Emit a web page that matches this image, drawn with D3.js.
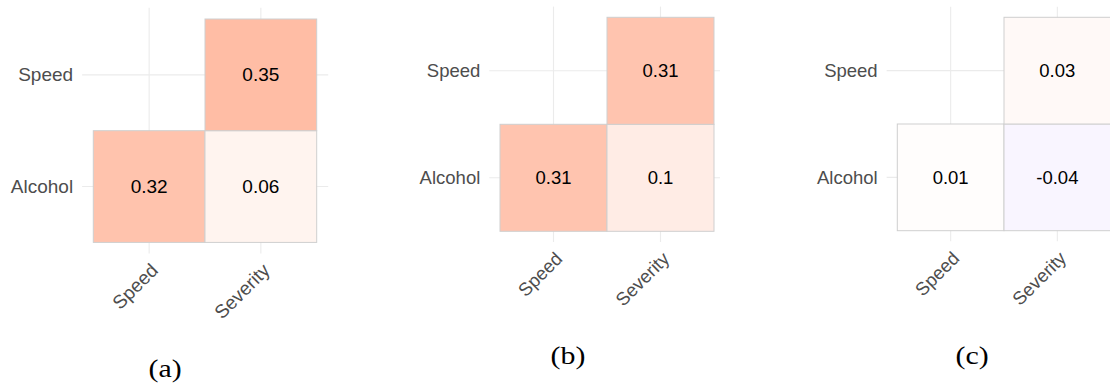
<!DOCTYPE html>
<html>
<head>
<meta charset="utf-8">
<script src="https://cdn.jsdelivr.net/npm/d3@7"></script>
<style>
  html, body { margin: 0; padding: 0; background: #fff; }
  svg { display: block; }
</style>
</head>
<body>
<svg id="chart" width="1110" height="389"></svg>
<script>
// Variables on each axis (y listed bottom to top)
const xVars = ["Speed", "Severity"];
const yVars = ["Alcohol", "Speed"];

// Lower-triangle cells shown in every matrix
const cellX = ["Speed", "Severity", "Severity"];
const cellY = ["Alcohol", "Alcohol", "Speed"];

// Correlation coefficients per panel, in cell order
const valuesA = [0.32, 0.06, 0.35];
const valuesB = [0.31, 0.10, 0.31];
const valuesC = [0.01, -0.04, 0.03];

const panelLabels = ["(a)", "(b)", "(c)"];

// Panel placement: tile area origin, tile size, right-side grid extension, font size, caption position
const panels = [
  { values: valuesA, x: 93.3,  y: 19,   size: 111.7, padR: 11.5, font: 19,   capX: 165, capY: 377 },
  { values: valuesB, x: 500,   y: 17.3, size: 107,   padR: 6,    font: 18.5, capX: 568, capY: 364 },
  { values: valuesC, x: 897.3, y: 17.3, size: 106.7, padR: 11,   font: 18.5, capX: 972, capY: 364 }
];

// Diverging blue-white-red fill on [-1, 1], interpolated in Lab
const fill = d3.scaleLinear()
  .domain([-1, 0, 1])
  .range(["blue", "white", "red"])
  .interpolate(d3.interpolateLab);

const fmt = v => String(+v.toFixed(2));

const svg = d3.select("#chart");

panels.forEach((p, pi) => {
  const g = svg.append("g");
  const w = p.size * xVars.length;
  const h = p.size * yVars.length;
  const pad = p.size * 0.1;

  const xs = d3.scaleBand().domain(xVars).range([p.x, p.x + w]);
  const ys = d3.scaleBand().domain(yVars).range([p.y + h, p.y]);

  const left = p.x - pad, right = p.x + w + p.padR;
  const top = p.y - pad, bottom = p.y + h + pad;

  // Major grid lines through category centres
  g.append("g").selectAll("line.v").data(xVars).join("line")
    .attr("x1", d => xs(d) + xs.bandwidth() / 2)
    .attr("x2", d => xs(d) + xs.bandwidth() / 2)
    .attr("y1", top).attr("y2", bottom)
    .attr("stroke", "#ebebeb").attr("stroke-width", 1.1);
  g.append("g").selectAll("line.h").data(yVars).join("line")
    .attr("y1", d => ys(d) + ys.bandwidth() / 2)
    .attr("y2", d => ys(d) + ys.bandwidth() / 2)
    .attr("x1", left).attr("x2", right)
    .attr("stroke", "#ebebeb").attr("stroke-width", 1.1);

  const cells = p.values.map((v, i) => ({ x: cellX[i], y: cellY[i], v }));

  // Correlation tiles
  g.append("g").selectAll("rect").data(cells).join("rect")
    .attr("x", d => xs(d.x))
    .attr("y", d => ys(d.y))
    .attr("width", xs.bandwidth())
    .attr("height", ys.bandwidth())
    .attr("fill", d => fill(d.v))
    .attr("stroke", "#cfcfcf")
    .attr("stroke-width", 1);

  // Coefficient labels
  g.append("g").selectAll("text").data(cells).join("text")
    .attr("x", d => xs(d.x) + xs.bandwidth() / 2)
    .attr("y", d => ys(d.y) + ys.bandwidth() / 2)
    .attr("text-anchor", "middle")
    .attr("dominant-baseline", "central")
    .attr("font-family", "Liberation Sans, Arial, sans-serif")
    .attr("font-size", p.font)
    .attr("fill", "#000")
    .text(d => fmt(d.v));

  // Y axis labels
  g.append("g").selectAll("text").data(yVars).join("text")
    .attr("x", left - 9)
    .attr("y", d => ys(d) + ys.bandwidth() / 2)
    .attr("text-anchor", "end")
    .attr("dominant-baseline", "central")
    .attr("font-family", "Liberation Sans, Arial, sans-serif")
    .attr("font-size", p.font)
    .attr("fill", "#4d4d4d")
    .text(d => d);

  // X axis labels, rotated 45 degrees
  g.append("g").selectAll("text").data(xVars).join("text")
    .attr("transform", d => `translate(${xs(d) + xs.bandwidth() / 2 + 10},${bottom + 18}) rotate(-45)`)
    .attr("text-anchor", "end")
    .attr("font-family", "Liberation Sans, Arial, sans-serif")
    .attr("font-size", p.font)
    .attr("fill", "#4d4d4d")
    .text(d => d);

  // Panel caption
  svg.append("text")
    .attr("transform", `translate(${p.capX},${p.capY}) scale(1.15,1)`)
    .attr("text-anchor", "middle")
    .attr("font-family", "Liberation Serif, Times New Roman, serif")
    .attr("font-size", 26)
    .attr("fill", "#000")
    .text(panelLabels[pi]);
});
</script>
</body>
</html>
